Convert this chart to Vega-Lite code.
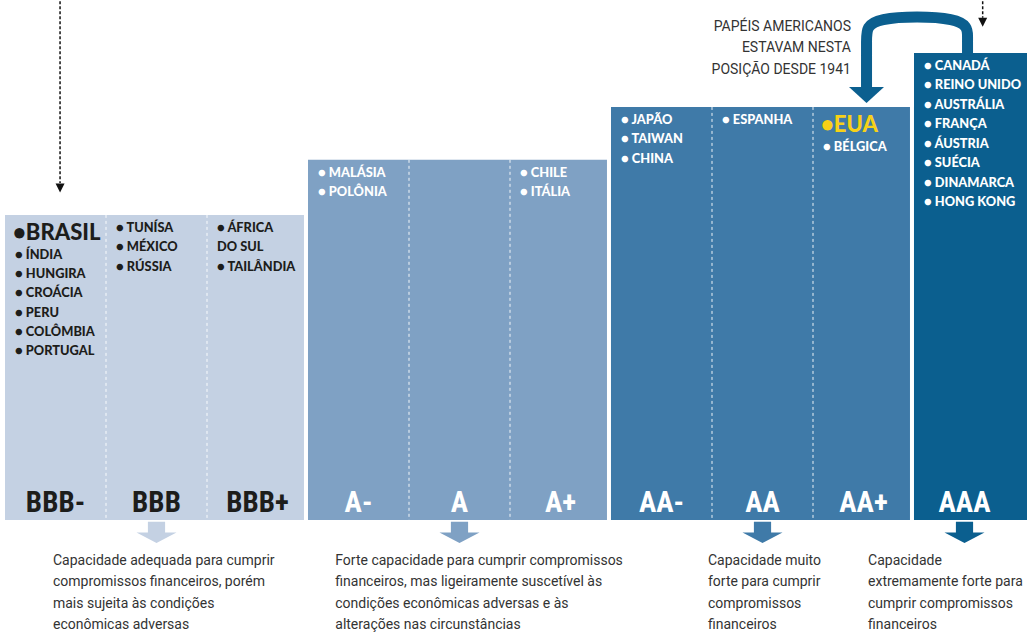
{
  "$schema": "https://vega.github.io/schema/vega-lite/v6.json",
  "width": 1027,
  "height": 642,
  "padding": 0,
  "autosize": {"type": "none"},
  "background": "white",
  "config": {"view": {"stroke": null}, "axis": {"disable": true}, "legend": {"disable": true}},
  "datasets": {
    "ratings": [
      {"rating": "BBB-", "group": "BBB", "level": 5.65, "countries": "● ÍNDIA\n● HUNGIRA\n● CROÁCIA\n● PERU\n● COLÔMBIA\n● PORTUGAL", "lead": "•BRASIL"},
      {"rating": "BBB", "group": "BBB", "level": 5.65, "countries": "● TUNÍSA\n● MÉXICO\n● RÚSSIA"},
      {"rating": "BBB+", "group": "BBB", "level": 5.65, "countries": "● ÁFRICA\nDO SUL\n● TAILÂNDIA"},
      {"rating": "A-", "group": "A", "level": 6.67, "countries": "● MALÁSIA\n● POLÔNIA"},
      {"rating": "A", "group": "A", "level": 6.67, "countries": ""},
      {"rating": "A+", "group": "A", "level": 6.67, "countries": "● CHILE\n● ITÁLIA"},
      {"rating": "AA-", "group": "AA", "level": 7.65, "countries": "● JAPÃO\n● TAIWAN\n● CHINA"},
      {"rating": "AA", "group": "AA", "level": 7.65, "countries": "● ESPANHA"},
      {"rating": "AA+", "group": "AA", "level": 7.65, "countries": "● BÉLGICA", "lead": "•EUA"},
      {"rating": "AAA", "group": "AAA", "level": 8.65, "countries": "● CANADÁ\n● REINO UNIDO\n● AUSTRÁLIA\n● FRANÇA\n● ÁUSTRIA\n● SUÉCIA\n● DINAMARCA\n● HONG KONG"}
    ],
    "notes": [
      {"group": "BBB", "text": "Capacidade adequada para cumprir\ncompromissos financeiros, porém\nmais sujeita às condições\neconômicas adversas"},
      {"group": "A", "text": "Forte capacidade para cumprir compromissos\nfinanceiros, mas ligeiramente suscetível às\ncondições econômicas adversas e às\nalterações nas circunstâncias"},
      {"group": "AA", "text": "Capacidade muito\nforte para cumprir\ncompromissos\nfinanceiros"},
      {"group": "AAA", "text": "Capacidade\nextremamente forte para\ncumprir compromissos\nfinanceiros"}
    ],
    "curve": [
      {"rating": "AAA", "level": 8.6, "step": 1},
      {"rating": "AAA", "level": 8.95, "step": 2},
      {"rating": "AAA", "level": 9.33, "step": 3},
      {"rating": "AA+", "level": 9.33, "step": 4},
      {"rating": "AA+", "level": 8.95, "step": 5},
      {"rating": "AA+", "level": 8.0, "step": 6}
    ],
    "annotation": [
      {"text": "PAPÉIS AMERICANOS\nESTAVAM NESTA\nPOSIÇÃO DESDE 1941"}
    ]
  },
  "layer": [
    {
      "data": {"name": "ratings"},
      "mark": {"type": "bar"},
      "encoding": {
        "x": {"field": "rating", "type": "nominal", "scale": {"type": "band", "domain": ["BBB-", "BBB", "BBB+", "A-", "A", "A+", "AA-", "AA", "AA+", "AAA"], "range": [5, 1015], "paddingInner": 0, "paddingOuter": 0}, "axis": null},
        "y": {"field": "level", "type": "quantitative", "scale": {"domain": [-2.26, 9.63], "nice": false, "zero": false}, "axis": null},
        "y2": {"datum": 0},
        "color": {"field": "group", "type": "nominal", "scale": {"domain": ["BBB", "A", "AA", "AAA"], "range": ["#c4d1e3", "#7fa1c4", "#3f7aa8", "#0b5f8f"]}, "legend": null}
      }
    },
    {
      "data": {"name": "ratings"},
      "transform": [{"filter": "datum.rating === 'AAA'"}],
      "mark": {"type": "bar"},
      "encoding": {
        "x": {"field": "rating", "type": "nominal", "bandPosition": 0},
        "x2": {"value": "width"},
        "y": {"field": "level", "type": "quantitative"},
        "y2": {"datum": 0},
        "color": {"field": "group", "type": "nominal"}
      }
    },
    {
      "data": {"name": "ratings"},
      "transform": [{"filter": {"field": "rating", "oneOf": ["A-", "AA-", "AAA"]}}],
      "mark": {"type": "rule", "color": "white", "strokeWidth": 4},
      "encoding": {
        "x": {"field": "rating", "type": "nominal", "bandPosition": -0.02},
        "y": {"field": "level", "type": "quantitative"},
        "y2": {"datum": 0}
      }
    },
    {
      "data": {"name": "ratings"},
      "transform": [{"filter": {"field": "rating", "oneOf": ["BBB", "BBB+", "A", "A+", "AA", "AA+"]}}],
      "mark": {"type": "rule", "color": "white", "strokeWidth": 1, "strokeDash": [3, 3], "opacity": 0.9},
      "encoding": {
        "x": {"field": "rating", "type": "nominal", "bandPosition": 0},
        "y": {"field": "level", "type": "quantitative"},
        "y2": {"datum": 0}
      }
    },
    {
      "data": {"name": "ratings"},
      "transform": [{"filter": "!datum.lead"}],
      "mark": {"type": "text", "align": "left", "baseline": "top", "dy": 7, "lineBreak": "\n", "lineHeight": 19.5, "font": "Lato", "fontWeight": 900, "fontSize": 12.8},
      "encoding": {
        "x": {"field": "rating", "type": "nominal", "bandPosition": 0.1},
        "y": {"field": "level", "type": "quantitative"},
        "text": {"field": "countries"},
        "color": {"condition": {"test": "datum.group === 'BBB'", "value": "#1d1d1b"}, "value": "#ffffff"}
      }
    },
    {
      "data": {"name": "ratings"},
      "transform": [{"filter": "datum.lead"}],
      "mark": {"type": "text", "align": "left", "baseline": "top", "dy": 34, "lineBreak": "\n", "lineHeight": 19.3, "font": "Lato", "fontWeight": 900, "fontSize": 12.8},
      "encoding": {
        "x": {"field": "rating", "type": "nominal", "bandPosition": 0.1},
        "y": {"field": "level", "type": "quantitative"},
        "text": {"field": "countries"},
        "color": {"condition": {"test": "datum.group === 'BBB'", "value": "#1d1d1b"}, "value": "#ffffff"}
      }
    },
    {
      "data": {"name": "ratings"},
      "transform": [{"filter": "datum.lead"}],
      "mark": {"type": "text", "align": "left", "baseline": "top", "dy": 8, "font": "Lato", "fontWeight": 900, "fontSize": 22},
      "encoding": {
        "x": {"field": "rating", "type": "nominal", "bandPosition": 0.08},
        "y": {"field": "level", "type": "quantitative"},
        "text": {"field": "lead"},
        "color": {"condition": {"test": "datum.group === 'BBB'", "value": "#1d1d1b"}, "value": "#f7d117"}
      }
    },
    {
      "data": {"name": "ratings"},
      "mark": {"type": "text", "align": "center", "baseline": "alphabetic", "dy": -8, "font": "Roboto Condensed, Liberation Sans Narrow, DejaVu Sans Condensed, Open Sans Condensed, sans-serif", "fontWeight": "bold", "fontSize": 29},
      "encoding": {
        "x": {"field": "rating", "type": "nominal"},
        "y": {"datum": 0},
        "text": {"field": "rating"},
        "color": {"condition": {"test": "datum.group === 'BBB'", "value": "#1d1d1b"}, "value": "#ffffff"}
      }
    },
    {
      "data": {"name": "ratings"},
      "transform": [{"filter": {"field": "rating", "oneOf": ["BBB", "A", "AA", "AAA"]}}],
      "mark": {"type": "point", "filled": true, "opacity": 1, "strokeWidth": 0, "size": 1600, "shape": "M-0.43,-0.53L0.43,-0.53L0.43,0L1,0L0,0.53L-1,0L-0.43,0Z"},
      "encoding": {
        "x": {"field": "rating", "type": "nominal"},
        "y": {"datum": -0.23},
        "color": {"field": "group", "type": "nominal"}
      }
    },
    {
      "data": {"name": "curve"},
      "mark": {"type": "line", "interpolate": "basis", "strokeWidth": 11, "color": "#0b5f8f", "strokeCap": "butt"},
      "encoding": {
        "x": {"field": "rating", "type": "nominal", "bandPosition": 0.53},
        "y": {"field": "level", "type": "quantitative"},
        "order": {"field": "step", "type": "quantitative"}
      }
    },
    {
      "data": {"values": [{}]},
      "mark": {"type": "point", "filled": true, "opacity": 1, "strokeWidth": 0, "color": "#0b5f8f", "size": 1225, "shape": "M-1,-0.46L1,-0.46L0,0.46Z"},
      "encoding": {
        "x": {"datum": "AA+", "type": "nominal", "bandPosition": 0.53},
        "y": {"datum": 7.87}
      }
    },
    {
      "data": {"name": "annotation"},
      "mark": {"type": "text", "align": "right", "baseline": "top", "lineBreak": "\n", "lineHeight": 21.5, "font": "Roboto", "fontSize": 14, "color": "#333333"},
      "encoding": {
        "x": {"datum": "AA+", "type": "nominal", "bandPosition": 0.376},
        "y": {"datum": 9.26},
        "text": {"field": "text"}
      }
    },
    {
      "data": {"values": [{}]},
      "mark": {"type": "rule", "color": "#111111", "strokeWidth": 1.5, "strokeDash": [3, 2]},
      "encoding": {
        "x": {"datum": "BBB-", "type": "nominal", "bandPosition": 0.545},
        "y": {"datum": 9.7},
        "y2": {"datum": 6.24}
      }
    },
    {
      "data": {"values": [{}]},
      "mark": {"type": "point", "filled": true, "opacity": 1, "strokeWidth": 0, "color": "#111111", "size": 81, "shape": "M-1,-1L1,-1L0,1Z"},
      "encoding": {
        "x": {"datum": "BBB-", "type": "nominal", "bandPosition": 0.545},
        "y": {"datum": 6.15}
      }
    },
    {
      "data": {"values": [{}]},
      "mark": {"type": "rule", "color": "#111111", "strokeWidth": 1.5, "strokeDash": [3, 2]},
      "encoding": {
        "x": {"datum": "AAA", "type": "nominal", "bandPosition": 0.68},
        "y": {"datum": 9.7},
        "y2": {"datum": 9.3}
      }
    },
    {
      "data": {"values": [{}]},
      "mark": {"type": "point", "filled": true, "opacity": 1, "strokeWidth": 0, "color": "#111111", "size": 81, "shape": "M-1,-1L1,-1L0,1Z"},
      "encoding": {
        "x": {"datum": "AAA", "type": "nominal", "bandPosition": 0.68},
        "y": {"datum": 9.22}
      }
    },
    {
      "data": {"name": "notes"},
      "transform": [{"filter": "datum.group === 'BBB'"}],
      "mark": {"type": "text", "align": "left", "baseline": "top", "lineBreak": "\n", "lineHeight": 21.3, "font": "Roboto", "fontSize": 14, "color": "#333333"},
      "encoding": {
        "x": {"datum": "BBB-", "type": "nominal", "bandPosition": 0.475},
        "y": {"datum": -0.63},
        "text": {"field": "text"}
      }
    },
    {
      "data": {"name": "notes"},
      "transform": [{"filter": "datum.group === 'A'"}],
      "mark": {"type": "text", "align": "left", "baseline": "top", "lineBreak": "\n", "lineHeight": 21.3, "font": "Roboto", "fontSize": 14, "color": "#333333"},
      "encoding": {
        "x": {"datum": "A-", "type": "nominal", "bandPosition": 0.27},
        "y": {"datum": -0.63},
        "text": {"field": "text"}
      }
    },
    {
      "data": {"name": "notes"},
      "transform": [{"filter": "datum.group === 'AA'"}],
      "mark": {"type": "text", "align": "left", "baseline": "top", "lineBreak": "\n", "lineHeight": 21.3, "font": "Roboto", "fontSize": 14, "color": "#333333"},
      "encoding": {
        "x": {"datum": "AA", "type": "nominal", "bandPosition": -0.04},
        "y": {"datum": -0.63},
        "text": {"field": "text"}
      }
    },
    {
      "data": {"name": "notes"},
      "transform": [{"filter": "datum.group === 'AAA'"}],
      "mark": {"type": "text", "align": "left", "baseline": "top", "lineBreak": "\n", "lineHeight": 21.3, "font": "Roboto", "fontSize": 14, "color": "#333333"},
      "encoding": {
        "x": {"datum": "AA+", "type": "nominal", "bandPosition": 0.545},
        "y": {"datum": -0.63},
        "text": {"field": "text"}
      }
    }
  ]
}
